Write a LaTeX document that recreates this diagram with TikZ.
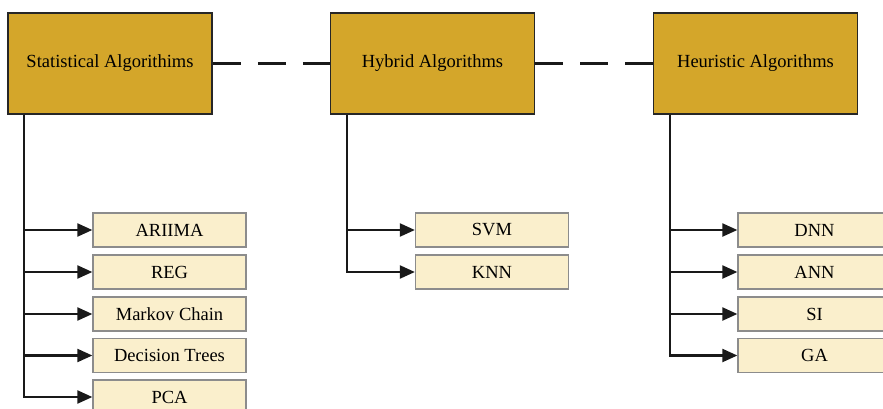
\documentclass[tikz,border=0pt]{standalone}
\usepackage{fontspec}
\setmainfont{Liberation Serif}
\usetikzlibrary{arrows.meta}
\definecolor{catfill}{HTML}{D4A62A}
\definecolor{itemfill}{HTML}{FAEFCC}
\definecolor{itemline}{HTML}{8C8C8C}
\begin{document}
\begin{tikzpicture}[x=1pt,y=-1pt,
  catbox/.style={draw=black!85, line width=1.8pt, fill=catfill, minimum width=204pt, minimum height=101pt,
    inner sep=0pt, font=\fontsize{18.5}{20}\selectfont},
  itembox/.style={draw=itemline, line width=1.3pt, fill=itemfill, minimum width=153pt, minimum height=34pt,
    inner sep=0pt, font=\fontsize{18.5}{20}\selectfont},
  link/.style={line width=2.2pt, black!90},
  feed/.style={link, -{Triangle[length=15pt,width=13pt]}},
  bridge/.style={link, dash pattern=on 28pt off 17pt}
]
\useasboundingbox (0,0) rectangle (883,409);
\clip (0,0) rectangle (883,409);

% category headers
\node[catbox] (stat) at (110,63.5) {Statistical Algorithims};
\node[catbox] (hyb)  at (432.5,63.5) {Hybrid Algorithms};
\node[catbox] (heur) at (755.5,63.5) {Heuristic Algorithms};

% dashed links between headers
\draw[bridge] (stat.east) -- (hyb.west);
\draw[bridge] (hyb.east) -- (heur.west);

% statistical methods
\node[itembox] (s1) at (169.5,230) {ARIIMA};
\node[itembox] (s2) at (169.5,272) {REG};
\node[itembox] (s3) at (169.5,314) {Markov Chain};
\node[itembox] (s4) at (169.5,355.5) {Decision Trees};
\node[itembox] (s5) at (169.5,397) {PCA};

% hybrid methods
\node[itembox] (h1) at (492,230) {SVM};
\node[itembox] (h2) at (492,272) {KNN};

% heuristic methods
\node[itembox] (u1) at (814.5,230) {DNN};
\node[itembox] (u2) at (814.5,272) {ANN};
\node[itembox] (u3) at (814.5,314) {SI};
\node[itembox] (u4) at (814.5,355.5) {GA};

% trunk start points under each header
\coordinate (st) at ([xshift=17pt]stat.south west);
\coordinate (ht) at ([xshift=17pt]hyb.south west);
\coordinate (ut) at ([xshift=17pt]heur.south west);

\foreach \n in {s1,s2,s3,s4,s5} \draw[feed] (st) |- (\n.west);
\foreach \n in {h1,h2} \draw[feed] (ht) |- (\n.west);
\foreach \n in {u1,u2,u3,u4} \draw[feed] (ut) |- (\n.west);
\end{tikzpicture}
\end{document}
